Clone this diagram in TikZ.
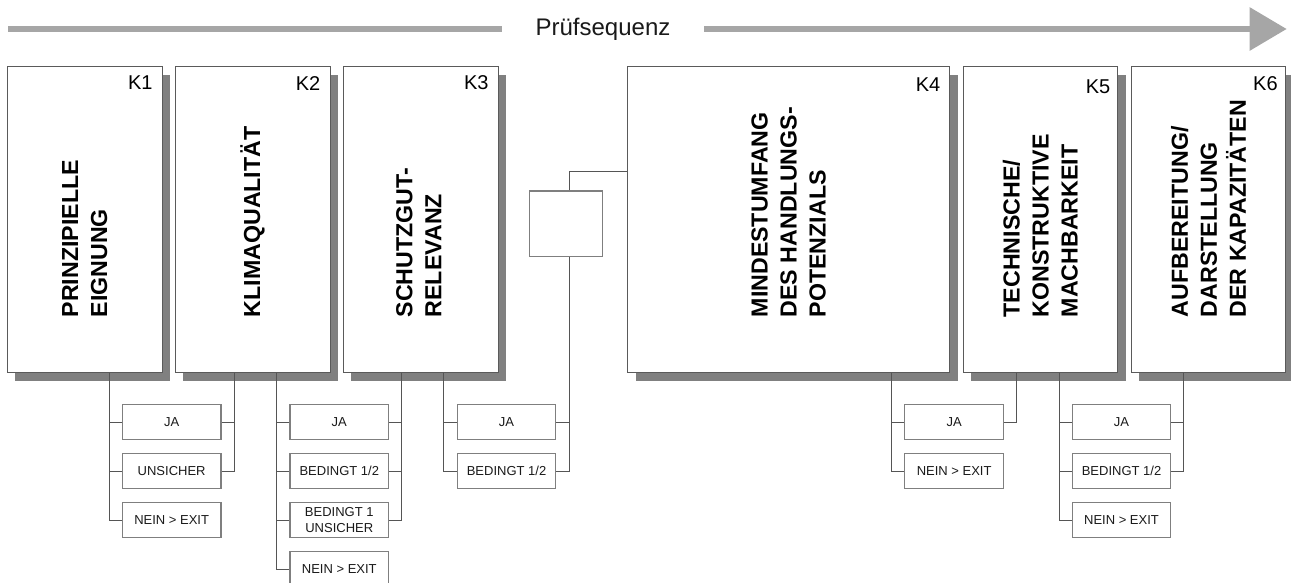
\documentclass[tikz,border=0pt]{standalone}
\usepackage{fontspec}
\setmainfont{Liberation Sans}
\usetikzlibrary{arrows.meta,shadows,calc}
\definecolor{arrowgray}{HTML}{A6A6A6}
\definecolor{shadowgray}{HTML}{808080}
\definecolor{boxline}{HTML}{5A5A5A}
\definecolor{optline}{HTML}{7F7F7F}
\definecolor{connline}{HTML}{555555}
\definecolor{textdark}{HTML}{1A1A1A}
\begin{document}
\begin{tikzpicture}[x=0.75pt,y=-0.75pt,
  mainbox/.style={draw=boxline, line width=0.75pt, fill=white, minimum height=229.5pt, inner sep=0pt,
    drop shadow={shadow xshift=6pt, shadow yshift=-6.5pt, fill=shadowgray, opacity=1}},
  maintext/.style={rotate=90, anchor=west, align=left, inner sep=0pt, text=black,
    font=\fontsize{17.4}{21.75}\selectfont\bfseries},
  klabel/.style={anchor=north east, inner sep=0pt, font=\fontsize{15}{18}\selectfont},
  optbox/.style={draw=optline, line width=0.9pt, fill=white, minimum width=73.9pt, minimum height=26.8pt,
    inner sep=0pt, align=center, text=textdark, font=\fontsize{9.75}{12.5}\selectfont},
  emptybox/.style={draw=optline, line width=0.9pt, fill=white, minimum width=54.75pt, minimum height=49.3pt, inner sep=0pt},
  conn/.style={draw=connline, line width=0.75pt},
  seqarrow/.style={draw=arrowgray, line width=4.5pt, -{Triangle[length=27.75pt,width=31.5pt]}},
  seqlabel/.style={fill=white, inner xsep=25.4pt, inner ysep=6pt, font=\fontsize{18}{21}\selectfont, text=textdark}
]
\useasboundingbox (0,0) rectangle (1291,582);

% sequence arrow
\coordinate (as) at (8,29);
\coordinate (ae) at (1286.7,29);
\draw[seqarrow] (as) -- (ae);
\node[seqlabel, anchor=base] (seq) at (603,35) {Prüfsequenz};

% main boxes
\node[mainbox, minimum width=116.25pt] (k1) at (84.8,219) {};
\node[mainbox, minimum width=116.25pt] (k2) at (252.5,219) {};
\node[mainbox, minimum width=116.25pt] (k3) at (420.8,219) {};
\node[mainbox, minimum width=241.35pt] (k4) at (788.6,219) {};
\node[mainbox, minimum width=115.8pt] (k5) at (1040.4,219) {};
\node[mainbox, minimum width=115.6pt] (k6) at (1208.35,219) {};

% labels
\node[klabel] (k1k) at ($(k1.north east)+(-10,10)$) {K1};
\node[klabel] (k2k) at ($(k2.north east)+(-10,10.5)$) {K2};
\node[klabel] (k3k) at ($(k3.north east)+(-10,9.5)$) {K3};
\node[klabel] (k4k) at ($(k4.north east)+(-9.5,11.5)$) {K4};
\node[klabel] (k5k) at ($(k5.north east)+(-7.6,14)$) {K5};
\node[klabel] (k6k) at ($(k6.north east)+(-8,10.5)$) {K6};

% main texts
\node[maintext] (k1t) at ($(k1.south)+(0,-55)$) {PRINZIPIELLE\\EIGNUNG};
\node[maintext] (k2t) at ($(k2.south)+(0,-55)$) {KLIMAQUALITÄT};
\node[maintext] (k3t) at ($(k3.south)+(-2,-55)$) {SCHUTZGUT-\\RELEVANZ};
\node[maintext] (k4t) at ($(k4.south)+(0,-55)$) {MINDESTUMFANG\\DES HANDLUNGS-\\POTENZIALS};
\node[maintext] (k5t) at ($(k5.south)+(0,-55)$) {TECHNISCHE/\\KONSTRUKTIVE\\MACHBARKEIT};
\node[maintext] (k6t) at ($(k6.south)+(0,-55)$) {AUFBEREITUNG/\\DARSTELLUNG\\DER KAPAZITÄTEN};

% small empty box
\node[emptybox] (sb) at (565.8,223.8) {};

% option boxes
\node[optbox] (k1a) at (171.65,422) {JA};
\node[optbox] (k1b) at (171.65,471) {UNSICHER};
\node[optbox] (k1c) at (171.65,520) {NEIN > EXIT};

\node[optbox] (k2a) at (339.3,422) {JA};
\node[optbox] (k2b) at (339.3,471) {BEDINGT 1/2};
\node[optbox] (k2c) at (339.3,520) {BEDINGT 1\\UNSICHER};
\node[optbox] (k2d) at (339.3,569) {NEIN > EXIT};

\node[optbox] (k3a) at (506.5,422) {JA};
\node[optbox] (k3b) at (506.5,471) {BEDINGT 1/2};

\node[optbox] (k4a) at (954.15,422) {JA};
\node[optbox] (k4b) at (954.15,471) {NEIN > EXIT};

\node[optbox] (k5a) at (1121.5,422) {JA};
\node[optbox] (k5b) at (1121.5,471) {BEDINGT 1/2};
\node[optbox] (k5c) at (1121.5,520) {NEIN > EXIT};

% line x positions
\coordinate (k1L) at (109.3,0);  \coordinate (k1R) at (234.3,0);
\coordinate (k2L) at (276.7,0);  \coordinate (k2R) at (401.7,0);
\coordinate (k3L) at (443.7,0);  \coordinate (k3R) at (569,0);
\coordinate (k4L) at (891.7,0);  \coordinate (k4R) at (1016.7,0);
\coordinate (k5L) at (1059,0);   \coordinate (k5R) at (1183.7,0);
\coordinate (hk) at (0,171);

% K1 connectors
\draw[conn] (k1.south -| k1L) |- (k1c.west);
\draw[conn] (k1a.west -| k1L) -- (k1a.west);
\draw[conn] (k1b.west -| k1L) -- (k1b.west);
\draw[conn] (k2.south -| k1R) |- (k1b.east);
\draw[conn] (k1a.east) -- (k1a.east -| k1R);

% K2 connectors
\draw[conn] (k2.south -| k2L) |- (k2d.west);
\draw[conn] (k2a.west -| k2L) -- (k2a.west);
\draw[conn] (k2b.west -| k2L) -- (k2b.west);
\draw[conn] (k2c.west -| k2L) -- (k2c.west);
\draw[conn] (k3.south -| k2R) |- (k2c.east);
\draw[conn] (k2a.east) -- (k2a.east -| k2R);
\draw[conn] (k2b.east) -- (k2b.east -| k2R);

% K3 connectors
\draw[conn] (k3.south -| k3L) |- (k3b.west);
\draw[conn] (k3a.west -| k3L) -- (k3a.west);
\draw[conn] (sb.south -| k3R) |- (k3b.east);
\draw[conn] (k3a.east) -- (k3a.east -| k3R);
\draw[conn] (sb.north -| k3R) |- (k4.west |- hk);

% K4 connectors
\draw[conn] (k4.south -| k4L) |- (k4b.west);
\draw[conn] (k4a.west -| k4L) -- (k4a.west);
\draw[conn] (k5.south -| k4R) |- (k4a.east);

% K5 connectors
\draw[conn] (k5.south -| k5L) |- (k5c.west);
\draw[conn] (k5a.west -| k5L) -- (k5a.west);
\draw[conn] (k5b.west -| k5L) -- (k5b.west);
\draw[conn] (k6.south -| k5R) |- (k5b.east);
\draw[conn] (k5a.east) -- (k5a.east -| k5R);
\end{tikzpicture}
\end{document}
